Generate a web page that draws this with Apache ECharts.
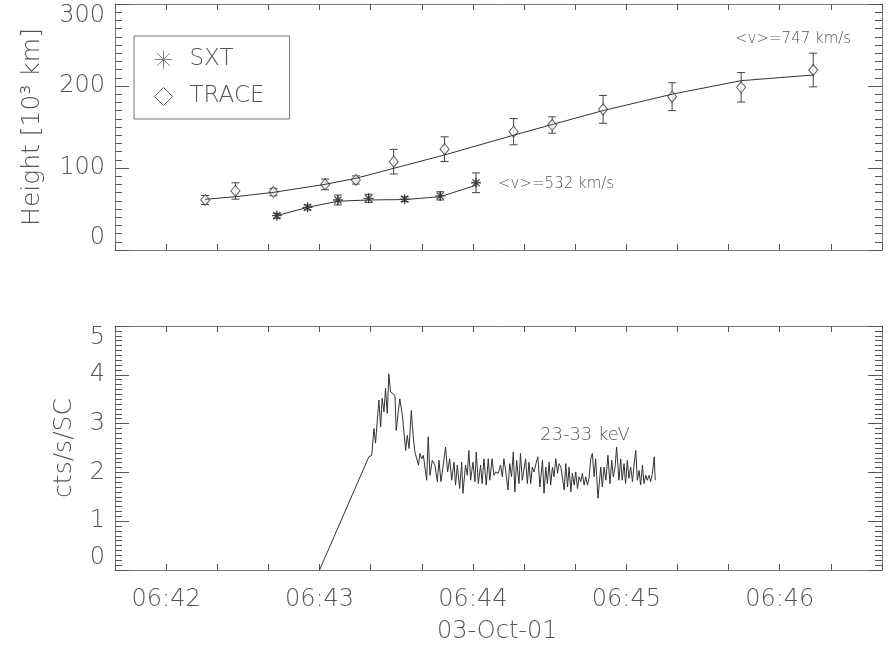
<!DOCTYPE html>
<html>
<head>
<meta charset="utf-8">
<title>03-Oct-01 height-time and HXR</title>
<script src="https://cdn.jsdelivr.net/npm/echarts@6/dist/echarts.min.js"></script>
<style>
html, body { margin: 0; padding: 0; background: #fff; }
#chart { width: 888px; height: 650px; }
</style>
</head>
<body>
<div id="chart"></div>
<script>
// times are seconds after 06:42:00 UT
var traceTime = [15.3, 27.1, 42.0, 62.2, 74.2, 89.0, 108.9, 135.9, 151.0, 170.9, 197.9, 224.9, 253.1];
var traceHeight = [61, 72, 70.7, 80, 85.4, 107.7, 123, 144.3, 152.4, 171.5, 187, 198.4, 219.5];
var traceErr = [5.5, 10, 4.5, 6.5, 5, 15, 15, 16, 10, 17, 17, 18, 20.5];
var traceFit = [61.8, 65, 70.3, 80.1, 87.4, 99.6, 115.9, 140, 153, 170, 190, 206.5, 213.4];

var sxtTime = [43.3, 55.3, 67.2, 79.2, 93.3, 107.2, 121.2];
var sxtHeight = [41.8, 52, 61, 63, 62, 66, 82];
var sxtErr = [3, 3, 6, 5, 3, 5, 12];
var sxtFit = [42, 52, 59.5, 61, 61.5, 65, 79];

// HXR 23-33 keV, times in seconds after 06:43:00
var hxrStart = 60;
var hxrTime = [0, 19.3, 20.4, 20.9, 21.3, 21.9, 22.6, 23.2, 23.9, 24.5,
  25.2, 25.8, 26.5, 27.1, 27.8, 28.5, 29.5, 30.0, 30.8, 31.4,
  32.4, 33.0, 33.7, 34.3, 35.0, 35.9, 36.6, 37.3, 38.0, 38.7,
  39.3, 40.0, 40.6, 41.2, 41.9, 42.5, 43.2, 44.1, 45.1, 46.1,
  46.7, 47.5, 48.2, 49.3, 50.1, 50.9, 51.7, 52.6, 53.2, 53.9,
  54.8, 55.6, 56.1, 57.1, 57.8, 58.4, 59.1, 60.0, 60.8, 61.3,
  62.1, 63.0, 63.6, 64.3, 65.2, 66.0, 66.6, 67.5, 68.2, 68.9,
  69.9, 70.8, 71.5, 72.1, 72.8, 73.7, 74.4, 75.1, 75.8, 76.4,
  77.1, 78.0, 78.6, 79.3, 79.9, 80.6, 81.3, 81.9, 82.6, 83.2,
  83.9, 84.8, 85.4, 86.2, 87.2, 87.8, 88.5, 89.1, 89.8, 90.4,
  91.1, 91.7, 92.4, 93.1, 93.7, 94.4, 95.0, 95.7, 96.3, 97.0,
  97.6, 98.3, 98.9, 99.6, 100.2, 100.9, 101.5, 102.2, 102.8, 103.5,
  104.1, 104.8, 105.4, 106.1, 106.7, 107.4, 108.0, 108.9, 110.0, 110.6,
  111.3, 112.0, 112.8, 113.6, 114.3, 114.9, 115.6, 116.2, 117.1, 117.8,
  118.4, 119.1, 119.7, 120.4, 121.0, 121.7, 122.4, 123.0, 123.7, 124.3,
  125.0, 125.6, 126.3, 126.9, 127.6, 128.2, 128.9, 129.5, 130.2, 130.9,
  131.3];
var hxrRate = [0, 2.32, 2.35, 2.32, 2.90, 2.60, 2.61, 3.48, 2.93, 3.52,
  3.24, 3.72, 3.21, 4.02, 3.65, 3.68, 3.58, 2.86, 3.24, 3.51,
  3.17, 2.83, 2.45, 2.76, 2.49, 3.27, 2.76, 2.42, 2.41, 2.15,
  2.39, 2.28, 2.35, 2.32, 1.84, 2.73, 1.94, 2.25, 2.15, 1.81,
  2.25, 1.81, 2.08, 2.52, 2.01, 2.28, 1.84, 2.21, 1.74, 2.15,
  1.67, 2.21, 1.57, 2.15, 1.94, 2.45, 1.84, 2.21, 1.81, 2.42,
  1.77, 2.15, 1.77, 2.28, 1.74, 2.28, 1.84, 2.28, 1.94, 2.01,
  1.98, 2.15, 1.91, 2.28, 2.04, 1.64, 2.18, 1.91, 2.42, 1.60,
  2.25, 1.77, 2.39, 1.84, 2.04, 2.28, 1.77, 2.21, 1.77, 2.11,
  2.01, 2.21, 2.32, 1.70, 2.25, 1.57, 2.11, 1.77, 2.21, 1.74,
  2.11, 1.91, 2.28, 1.98, 2.18, 2.11, 2.15, 1.64, 2.18, 1.70,
  2.11, 1.60, 1.98, 1.74, 2.01, 1.67, 1.91, 1.81, 1.98, 1.74,
  1.91, 1.74, 1.88, 2.28, 2.39, 1.91, 2.28, 1.47, 2.11, 1.70,
  2.11, 1.84, 2.35, 1.77, 2.25, 1.91, 2.11, 2.52, 1.84, 2.28,
  1.84, 2.18, 1.77, 2.25, 1.88, 2.11, 1.81, 2.15, 2.45, 1.84,
  2.04, 1.74, 2.15, 1.77, 1.94, 1.84, 1.94, 1.81, 1.98, 2.32,
  1.84];

var xMin = -20, xMax = 280, xStep = 20;
var heightTicks = [0, 300, 100];
var rateTicks = [0, 5, 1];

var FONT = 'DejaVu Sans';
var TXT = '#555';
var AX = '#777';
var TICK = '#555';
var INK = '#333';
var asterisk = 'path://M5,0L5,10M0,5L10,5M1.5,1.5L8.5,8.5M8.5,1.5L1.5,8.5';

function pairs(xs, ys, off) {
  return xs.map(function (x, i) { return [x + (off || 0), ys[i]]; });
}
function errData(xs, ys, es) {
  return xs.map(function (x, i) { return [x, ys[i] - es[i], ys[i] + es[i]]; });
}
function renderErr(params, api) {
  var x = api.value(0);
  var top = api.coord([x, api.value(2)]);
  var bot = api.coord([x, api.value(1)]);
  var w = 4;
  var st = { stroke: '#444', lineWidth: 1 };
  return {
    type: 'group',
    children: [
      { type: 'line', shape: { x1: top[0], y1: top[1], x2: bot[0], y2: bot[1] }, style: st },
      { type: 'line', shape: { x1: top[0] - w, y1: top[1], x2: top[0] + w, y2: top[1] }, style: st },
      { type: 'line', shape: { x1: bot[0] - w, y1: bot[1], x2: bot[0] + w, y2: bot[1] }, style: st }
    ]
  };
}
function timeLabel(v) {
  if (v % 60 !== 0) return '';
  var m = 42 + v / 60;
  return '06:' + (m < 10 ? '0' + m : m);
}

function xAxis(grid, pos, showLabel) {
  return {
    type: 'value', gridIndex: grid, position: pos,
    min: xMin, max: xMax, interval: xStep,
    axisLine: { show: true, onZero: false, lineStyle: { color: AX, width: 1 } },
    axisTick: { show: true, inside: true, length: 6, lineStyle: { color: TICK } },
    axisLabel: {
      show: showLabel, formatter: timeLabel, margin: 18,
      color: TXT, fontFamily: FONT, fontWeight: 200, fontSize: 24,
      showMinLabel: true, showMaxLabel: true
    },
    splitLine: { show: false }
  };
}
function yAxis(grid, pos, ticks, showLabel, name, gap) {
  return {
    type: 'value', gridIndex: grid, position: pos,
    min: ticks[0], max: ticks[1], interval: ticks[2],
    name: showLabel ? name : '', nameLocation: 'middle', nameGap: gap,
    nameTextStyle: { color: TXT, fontFamily: FONT, fontWeight: 200, fontSize: 25 },
    axisLine: { show: true, onZero: false, lineStyle: { color: AX, width: 1 } },
    axisTick: { show: true, inside: true, length: 14, lineStyle: { color: TICK } },
    minorTick: { show: true, splitNumber: 10, length: 7, lineStyle: { color: TICK } },
    axisLabel: {
      show: showLabel, margin: 10,
      color: TXT, fontFamily: FONT, fontWeight: 200, fontSize: 24,
      verticalAlignMinLabel: 'bottom', verticalAlignMaxLabel: 'top'
    },
    splitLine: { show: false }
  };
}

var chart = echarts.init(document.getElementById('chart'));
var option = {
  animation: false,
  backgroundColor: '#fff',
  grid: [
    { left: 115, right: 6, top: 4, height: 246 },
    { left: 115, right: 6, top: 326, height: 244 }
  ],
  xAxis: [
    xAxis(0, 'bottom', false),
    xAxis(0, 'top', false),
    xAxis(1, 'bottom', true),
    xAxis(1, 'top', false)
  ],
  yAxis: [
    yAxis(0, 'left', heightTicks, true, 'Height [10³ km]', 70),
    yAxis(0, 'right', heightTicks, false, '', 0),
    yAxis(1, 'left', rateTicks, true, 'cts/s/SC', 38),
    yAxis(1, 'right', rateTicks, false, '', 0)
  ],
  legend: {
    orient: 'vertical', left: 134, top: 36,
    padding: [12, 25, 11, 20],
    itemWidth: 18, itemHeight: 18, itemGap: 14,
    borderColor: AX, borderWidth: 1,
    textStyle: { color: TXT, fontFamily: FONT, fontWeight: 200, fontSize: 23, padding: [0, 0, 0, 12] },
    data: [
      { name: 'SXT', icon: asterisk, itemStyle: { color: 'transparent', borderColor: '#666', borderWidth: 1 } },
      { name: 'TRACE', icon: 'diamond', itemStyle: { color: 'transparent', borderColor: '#444', borderWidth: 1 } }
    ]
  },
  graphic: [
    { type: 'text', left: 735, top: 32, style: { text: '<v>=747 km/s', fill: TXT, font: '200 15px "DejaVu Sans"' } },
    { type: 'text', left: 498, top: 177, style: { text: '<v>=532 km/s', fill: TXT, font: '200 15px "DejaVu Sans"' } },
    { type: 'text', left: 540, top: 426, style: { text: '23-33 keV', fill: TXT, font: '200 18px "DejaVu Sans"' } },
    { type: 'text', left: 437, top: 620, style: { text: '03-Oct-01', fill: TXT, font: '200 24px "DejaVu Sans"' } }
  ],
  series: [
    {
      name: 'TRACE fit', type: 'line', xAxisIndex: 0, yAxisIndex: 0,
      data: pairs(traceTime, traceFit), showSymbol: false,
      lineStyle: { color: INK, width: 1 }
    },
    {
      name: 'SXT fit', type: 'line', xAxisIndex: 0, yAxisIndex: 0,
      data: pairs(sxtTime, sxtFit), showSymbol: false,
      lineStyle: { color: INK, width: 1 }
    },
    {
      name: 'TRACE err', type: 'custom', xAxisIndex: 0, yAxisIndex: 0,
      data: errData(traceTime, traceHeight, traceErr), renderItem: renderErr,
      encode: { x: 0, y: [1, 2] }
    },
    {
      name: 'SXT err', type: 'custom', xAxisIndex: 0, yAxisIndex: 0,
      data: errData(sxtTime, sxtHeight, sxtErr), renderItem: renderErr,
      encode: { x: 0, y: [1, 2] }
    },
    {
      name: 'TRACE', type: 'scatter', xAxisIndex: 0, yAxisIndex: 0,
      data: pairs(traceTime, traceHeight), symbol: 'diamond', symbolSize: [9, 11],
      itemStyle: { color: '#fff', borderColor: INK, borderWidth: 1 }
    },
    {
      name: 'SXT', type: 'scatter', xAxisIndex: 0, yAxisIndex: 0,
      data: pairs(sxtTime, sxtHeight), symbol: asterisk, symbolSize: 10,
      itemStyle: { color: 'transparent', borderColor: '#222', borderWidth: 1.3 }
    },
    {
      name: '23-33 keV', type: 'line', xAxisIndex: 2, yAxisIndex: 2,
      data: pairs(hxrTime, hxrRate, hxrStart), showSymbol: false,
      lineStyle: { color: INK, width: 1 }
    }
  ]
};
chart.setOption(option);
</script>
</body>
</html>
